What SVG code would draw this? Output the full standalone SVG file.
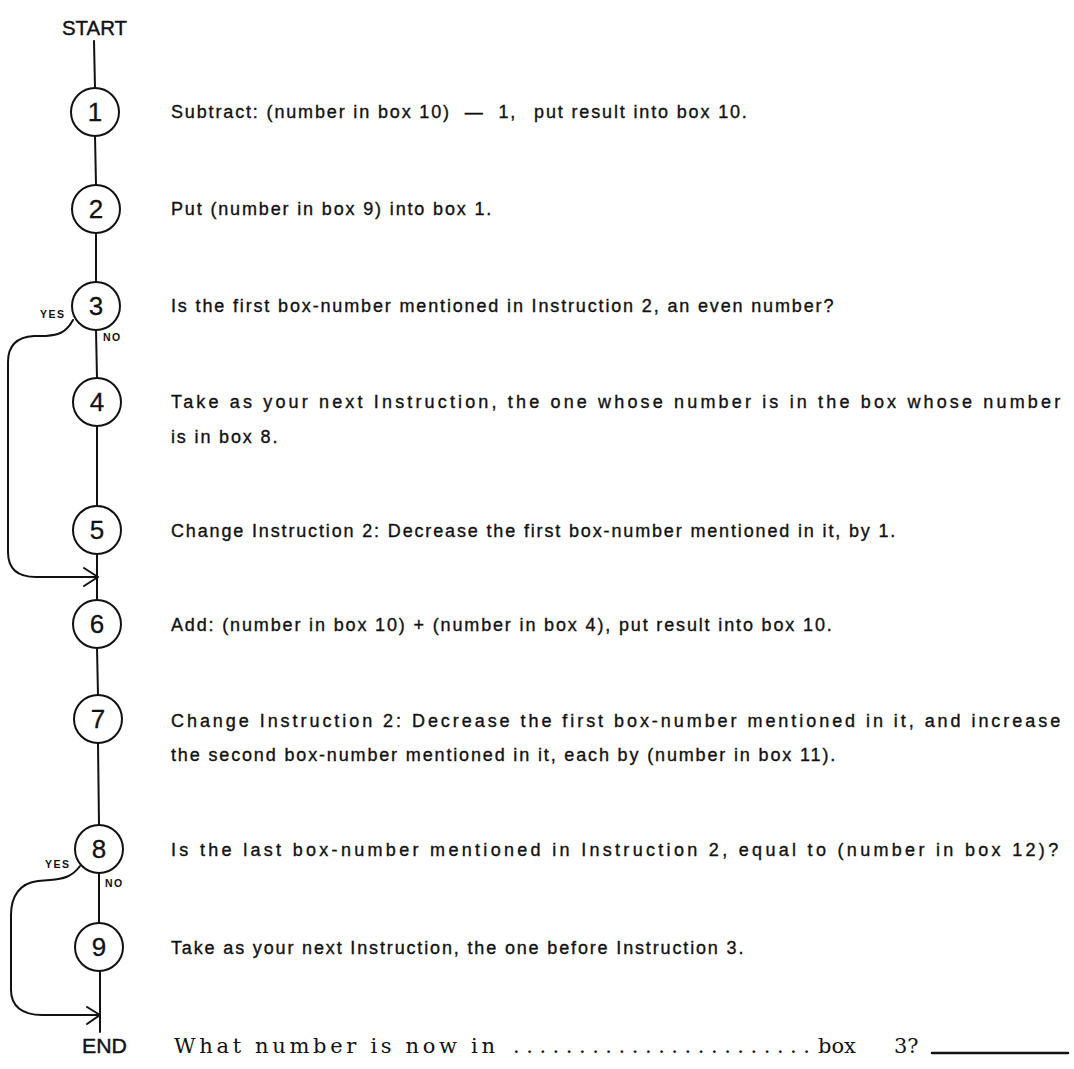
<svg xmlns="http://www.w3.org/2000/svg" width="1074" height="1069" viewBox="0 0 1074 1069">
<style>
.bg{fill:#fff}
.ln{fill:none;stroke:#111;stroke-width:2;stroke-linecap:round;stroke-linejoin:round}
.cir{fill:#fff;stroke:#111;stroke-width:2}
.num{font-family:"Liberation Sans",Arial,sans-serif;font-size:26px;fill:#111;stroke:#111;stroke-width:0.3;text-anchor:middle}
.ins{font-family:"Liberation Sans",Arial,sans-serif;font-size:18px;letter-spacing:1.85px;fill:#111;stroke:#111;stroke-width:0.35}
.term{font-family:"Liberation Sans",Arial,sans-serif;font-size:21px;fill:#111;stroke:#111;stroke-width:0.4}
.lbl{font-family:"Liberation Sans",Arial,sans-serif;font-size:10.5px;font-weight:bold;letter-spacing:1.5px;fill:#111}
.ser{font-family:"DejaVu Serif","Liberation Serif",serif;font-size:21px;fill:#111}
</style>
<rect class="bg" x="0" y="0" width="1074" height="1069"/>
<g id="connectors">
<path class="ln" d="M94 41 L95 88"/>
<path class="ln" d="M95 136 L96 185"/>
<path class="ln" d="M96 233 L96 282"/>
<path class="ln" d="M96 330 L97 378"/>
<path class="ln" d="M97 426 L97 506"/>
<path class="ln" d="M97 554 L97 600"/>
<path class="ln" d="M97 648 L98 695"/>
<path class="ln" d="M98 743 L99 825"/>
<path class="ln" d="M99 873 L99 923"/>
<path class="ln" d="M100 971 L100 1032"/>
<path class="ln" d="M73 320 C 66 333, 58 335, 46 336 L 34 336 C 17 337, 8 346, 8 362 L 8 552 C 8 569, 18 577, 36 577 L 97 577"/>
<path class="ln" d="M84 568 L98 577 L84 586"/>
<path class="ln" d="M80 866 C 72 877, 63 879, 50 880 L 38 881 C 20 883, 11 896, 11 915 L 11 990 C 11 1006, 22 1015, 42 1015 L 99 1015"/>
<path class="ln" d="M87 1007 L100 1015 L87 1024"/>
<text class="lbl" x="40" y="318">YES</text>
<text class="lbl" x="103" y="341">NO</text>
<text class="lbl" x="45" y="868">YES</text>
<text class="lbl" x="105" y="887">NO</text>
</g>
<g id="start"><text class="term" x="62" y="35" textLength="65" lengthAdjust="spacingAndGlyphs">START</text></g>
<g id="n1"><circle class="cir" cx="95" cy="112" r="24"/><text class="num" x="95" y="121">1</text>
<text class="ins" x="171" y="118">Subtract: (number in box 10) <tspan dx="7">—</tspan> <tspan dx="7">1,</tspan> <tspan dx="10">put result into box 10.</tspan></text></g>
<g id="n2"><circle class="cir" cx="96" cy="209" r="24"/><text class="num" x="96" y="218">2</text>
<text class="ins" x="171" y="215">Put (number in box 9) into box 1.</text></g>
<g id="n3"><circle class="cir" cx="96" cy="306" r="24"/><text class="num" x="96" y="315">3</text>
<text class="ins" x="171" y="312">Is the first box-number mentioned in Instruction 2, an even number?</text></g>
<g id="n4"><circle class="cir" cx="97" cy="402" r="24"/><text class="num" x="97" y="411">4</text>
<text class="ins" x="171" y="408" textLength="891" lengthAdjust="spacing">Take as your next Instruction, the one whose number is in the box whose number</text>
<text class="ins" x="171" y="443">is in box 8.</text></g>
<g id="n5"><circle class="cir" cx="97" cy="530" r="24"/><text class="num" x="97" y="539">5</text>
<text class="ins" x="171" y="537">Change Instruction 2: Decrease the first box-number mentioned in it, by 1.</text></g>
<g id="n6"><circle class="cir" cx="97" cy="624" r="24"/><text class="num" x="97" y="633">6</text>
<text class="ins" x="171" y="631">Add: (number in box 10) + (number in box 4), put result into box 10.</text></g>
<g id="n7"><circle class="cir" cx="98" cy="719" r="24"/><text class="num" x="98" y="728">7</text>
<text class="ins" x="171" y="727" textLength="891" lengthAdjust="spacing">Change Instruction 2: Decrease the first box-number mentioned in it, and increase</text>
<text class="ins" x="171" y="761">the second box-number mentioned in it, each by (number in box 11).</text></g>
<g id="n8"><circle class="cir" cx="99" cy="849" r="24"/><text class="num" x="99" y="858">8</text>
<text class="ins" x="171" y="856" textLength="889" lengthAdjust="spacing">Is the last box-number mentioned in Instruction 2, equal to (number in box 12)?</text></g>
<g id="n9"><circle class="cir" cx="99" cy="947" r="24"/><text class="num" x="99" y="956">9</text>
<text class="ins" x="171" y="954">Take as your next Instruction, the one before Instruction 3.</text></g>
<g id="end"><text class="term" x="82" y="1053" textLength="45" lengthAdjust="spacingAndGlyphs">END</text>
<text class="ser" x="174" y="1053" textLength="321" lengthAdjust="spacing">What number is now in</text>
<text class="ser" x="513" y="1053" textLength="297" lengthAdjust="spacing">.......................</text>
<text class="ser" x="818" y="1053">box</text>
<text class="ser" x="894" y="1053">3?</text>
<path class="ln" d="M932 1053 L1068 1053" style="stroke-width:2.5"/></g>
</svg>
